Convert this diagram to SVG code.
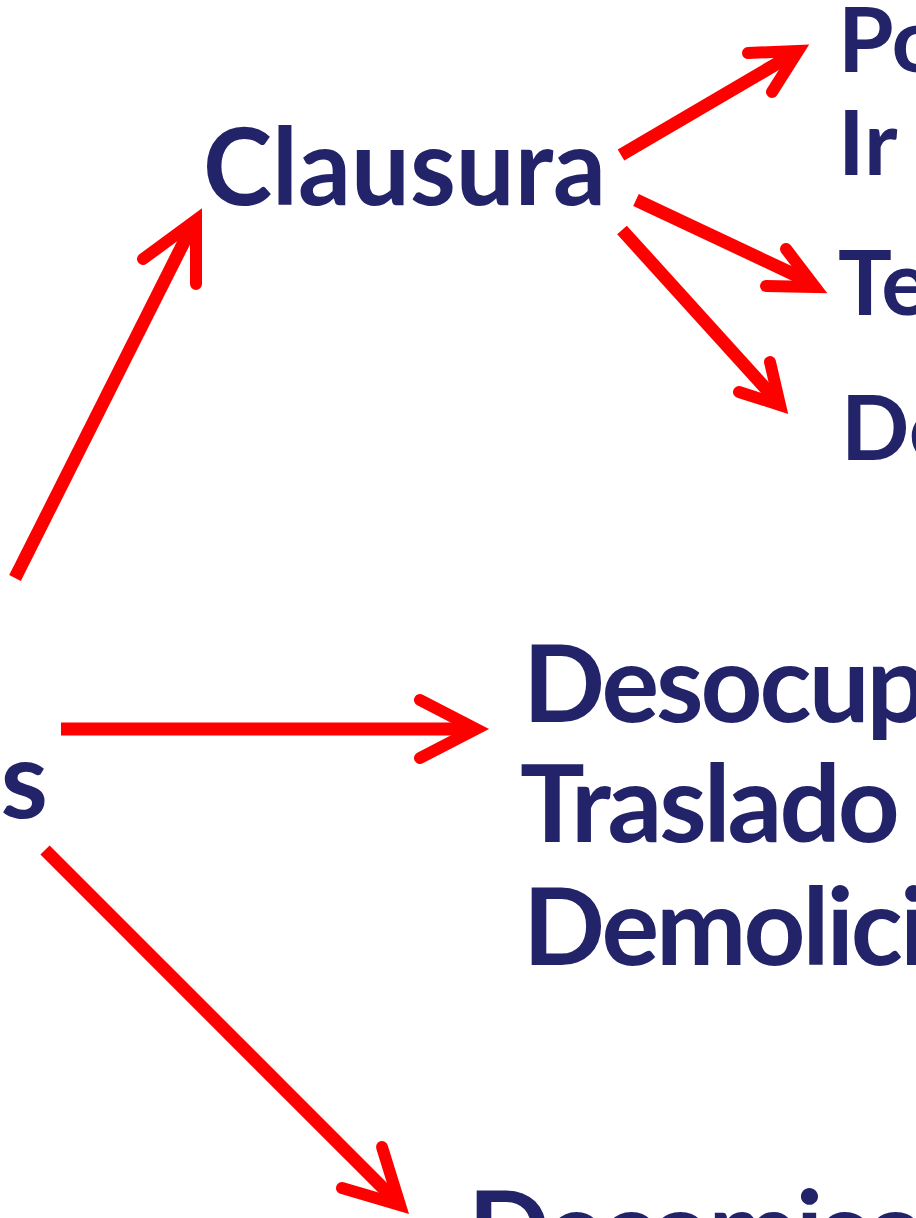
<svg xmlns="http://www.w3.org/2000/svg" width="916" height="1218" viewBox="0 0 916 1218">
<style>
text{font-family:"Lato","Open Sans","DejaVu Sans",sans-serif;font-weight:700;fill:#232369}
.big{font-size:108px}
.tight{letter-spacing:-3px}
.mid{font-size:90px}
.shaft{stroke:#ff0000;stroke-width:13;fill:none;stroke-linecap:butt}
.head{stroke:#ff0000;stroke-width:12;fill:none;stroke-linecap:round;stroke-linejoin:miter;stroke-miterlimit:10}
</style>
<rect width="916" height="1218" fill="#ffffff"/>
<g id="node-medidas"><text class="big" x="48" y="818" text-anchor="end">s</text></g>
<g id="node-clausura"><text class="big" x="203" y="205" textLength="403" lengthAdjust="spacingAndGlyphs">Clausura</text></g>
<g id="node-po"><text class="mid" x="838" y="72">Po</text></g>
<g id="node-ir"><text class="mid" x="838" y="175">Ir</text></g>
<g id="node-te"><text class="mid" x="838" y="315">Te</text></g>
<g id="node-de"><text class="mid" x="841" y="460">De</text></g>
<g id="node-desocupacion">
<text class="big tight" x="523" y="722">Desocupa</text>
<text class="big tight" x="520" y="842">Traslado</text>
<text class="big tight" x="523" y="965">Demolici</text>
</g>
<g id="node-decomiso"><text class="big tight" x="468" y="1268">Decomiso</text></g>
<g id="connectors">
<line class="shaft" x1="15" y1="578" x2="190" y2="230"/>
<polyline class="head" points="143,259 196,220 196,284"/>
<line class="shaft" x1="621" y1="155" x2="790" y2="56"/>
<polyline class="head" points="748,53 798,51 772,92"/>
<line class="shaft" x1="636" y1="200" x2="808" y2="281"/>
<polyline class="head" points="786,249 815,287 766,286"/>
<line class="shaft" x1="622" y1="230" x2="777" y2="401"/>
<polyline class="head" points="770,362 780,405 739,392"/>
<line class="shaft" x1="61" y1="729" x2="472" y2="729"/>
<polyline class="head" points="420,700 476,729 420,758"/>
<line class="shaft" x1="45" y1="850" x2="396" y2="1201"/>
<polyline class="head" points="382,1147 400,1205 342,1188"/>
</g>
</svg>
